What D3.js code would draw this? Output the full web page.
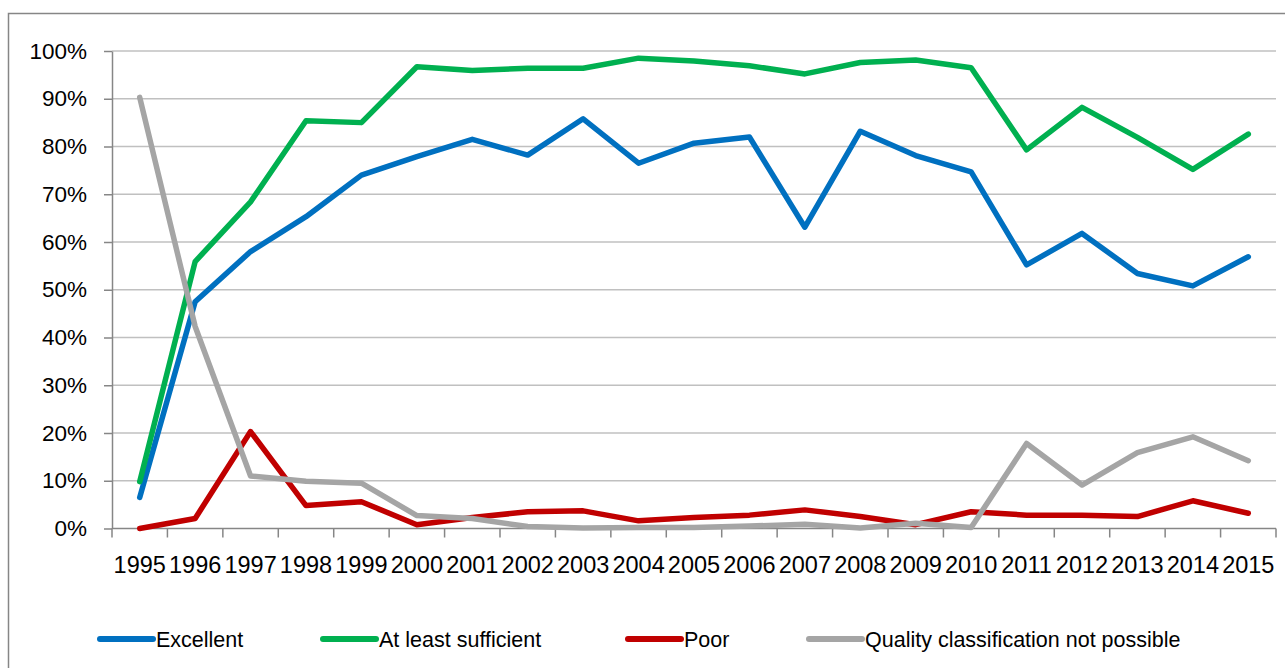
<!DOCTYPE html>
<html>
<head>
<meta charset="utf-8">
<script src="https://cdn.jsdelivr.net/npm/d3@7"></script>
<style>
  html, body { margin: 0; padding: 0; background: #fff; }
  svg { display: block; font-family: "Liberation Sans", Arial, sans-serif; }
</style>
</head>
<body>
<script>
// Data (percent)
const years = ["1995","1996","1997","1998","1999","2000","2001","2002","2003","2004","2005",
               "2006","2007","2008","2009","2010","2011","2012","2013","2014","2015"];
const excellent = [6.5, 47.5, 58.0, 65.3, 74.0, 77.9, 81.5, 78.2, 85.8, 76.5, 80.7,
                   82.0, 63.1, 83.2, 78.1, 74.7, 55.2, 61.8, 53.4, 50.8, 56.9];
const sufficient = [9.8, 55.9, 68.4, 85.4, 85.0, 96.7, 95.9, 96.4, 96.4, 98.5, 97.9,
                    96.9, 95.2, 97.6, 98.1, 96.5, 79.3, 88.2, 81.9, 75.2, 82.6];
const poor = [0.0, 2.1, 20.3, 4.8, 5.6, 0.8, 2.3, 3.5, 3.7, 1.6, 2.3,
              2.8, 3.9, 2.5, 0.8, 3.5, 2.8, 2.8, 2.5, 5.8, 3.2];
const notPossible = [90.3, 42.3, 11.0, 9.9, 9.5, 2.7, 2.1, 0.4, 0.1, 0.2, 0.2,
                     0.5, 0.9, 0.1, 1.1, 0.2, 17.8, 9.1, 15.9, 19.2, 14.2];
const yTicks = [0, 10, 20, 30, 40, 50, 60, 70, 80, 90, 100];

const series = [
  { name: "Excellent", values: excellent, color: "#0070C0" },
  { name: "At least sufficient", values: sufficient, color: "#00B050" },
  { name: "Poor", values: poor, color: "#C00000" },
  { name: "Quality classification not possible", values: notPossible, color: "#A5A5A5" }
];

const width = 1285, height = 668;
const plot = { left: 112, right: 1276, top: 51, bottom: 528.5 };

const svg = d3.select("body").append("svg")
  .attr("width", width)
  .attr("height", height);

// chart frame (only top and left edges visible in the crop)
svg.append("path")
  .attr("d", `M8.5,${height} V13.5 H${width}`)
  .attr("fill", "none")
  .attr("stroke", "#868686")
  .attr("stroke-width", 1.5);

const x = d3.scaleBand().domain(years).range([plot.left, plot.right]);
const y = d3.scaleLinear().domain([0, 100]).range([plot.bottom, plot.top]);

// gridlines
svg.append("g")
  .selectAll("line")
  .data(yTicks.filter(d => d > 0))
  .join("line")
  .attr("x1", plot.left)
  .attr("x2", plot.right)
  .attr("y1", d => y(d))
  .attr("y2", d => y(d))
  .attr("stroke", "#C0C0C0")
  .attr("stroke-width", 1.5);

// y axis
const yAxis = svg.append("g")
  .attr("transform", `translate(${plot.left},0)`)
  .call(d3.axisLeft(y).tickValues(yTicks).tickFormat(d => d + "%").tickSize(8).tickSizeOuter(0));
yAxis.select(".domain").attr("stroke", "#868686").attr("stroke-width", 1.5);
yAxis.selectAll(".tick line").attr("stroke", "#868686").attr("stroke-width", 1.5);
yAxis.selectAll(".tick text")
  .attr("x", -25)
  .attr("fill", "#000")
  .style("font-size", "22.5px")
  .style("font-family", "'Liberation Sans', Arial, sans-serif");

// x axis: ticks between categories
const xAxisG = svg.append("g")
  .attr("transform", `translate(0,${plot.bottom})`);
xAxisG.append("line")
  .attr("x1", plot.left).attr("x2", plot.right)
  .attr("stroke", "#868686").attr("stroke-width", 1.5);
const boundaries = years.map(d => x(d)).concat([x(years[years.length - 1]) + x.bandwidth()]);
xAxisG.selectAll("line.tk")
  .data(boundaries)
  .join("line")
  .attr("class", "tk")
  .attr("x1", d => d).attr("x2", d => d)
  .attr("y1", 0).attr("y2", 9)
  .attr("stroke", "#868686").attr("stroke-width", 1.5);
xAxisG.selectAll("text")
  .data(years)
  .join("text")
  .attr("x", d => x(d) + x.bandwidth() / 2)
  .attr("y", 44)
  .attr("text-anchor", "middle")
  .style("font-size", "23.5px")
  .attr("fill", "#000")
  .text(d => d);

// lines
const line = d3.line()
  .x((d, i) => x(years[i]) + x.bandwidth() / 2)
  .y(d => y(d));

svg.append("g")
  .selectAll("path")
  .data(series)
  .join("path")
  .attr("d", d => line(d.values))
  .attr("fill", "none")
  .attr("stroke", d => d.color)
  .attr("stroke-width", 5.5)
  .attr("stroke-linejoin", "round")
  .attr("stroke-linecap", "round");

// legend
const legendX = [98, 321, 626, 807];
const legend = svg.append("g")
  .selectAll("g")
  .data(series)
  .join("g")
  .attr("transform", (d, i) => `translate(${legendX[i]},639)`);
legend.append("line")
  .attr("x1", 2).attr("x2", 55)
  .attr("stroke", d => d.color)
  .attr("stroke-width", 6)
  .attr("stroke-linecap", "round");
legend.append("text")
  .attr("x", 58)
  .attr("dy", "0.35em")
  .style("font-size", "21.5px")
  .attr("fill", "#000")
  .text(d => d.name);
</script>
</body>
</html>
